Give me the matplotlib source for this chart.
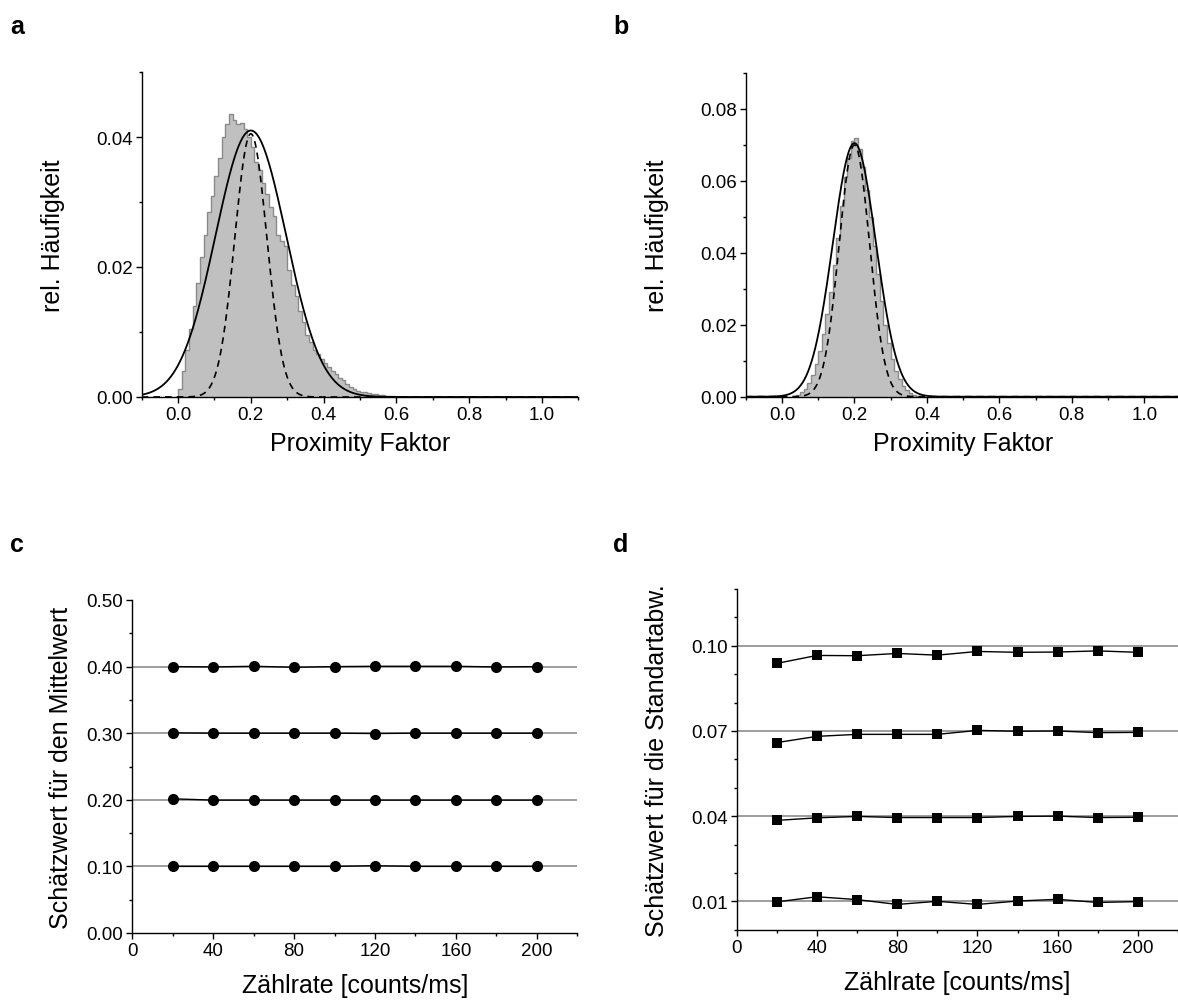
"""Proximity-factor histograms (a, b) and estimator stability vs count rate (c, d)."""

import numpy as np
import matplotlib

matplotlib.use("Agg")
from matplotlib import pyplot as plt
from matplotlib.ticker import FixedLocator, FormatStrFormatter, MultipleLocator

plt.rcParams["font.family"] = ["Liberation Sans", "DejaVu Sans"]

# --- panel a: broad distribution, 0.01 wide bins starting at 0.0
HIST_A_START = 0.0
HIST_A = [
    0.0012, 0.0040, 0.0072, 0.0105, 0.0140, 0.0175, 0.0215, 0.0250, 0.0285, 0.0310,
    0.0340, 0.0368, 0.0400, 0.0420, 0.0436, 0.0426, 0.0420, 0.0421, 0.0412, 0.0400,
    0.0385, 0.0362, 0.0350, 0.0330, 0.0312, 0.0292, 0.0278, 0.0250, 0.0240, 0.0232,
    0.0195, 0.0172, 0.0155, 0.0132, 0.0115, 0.0095, 0.0085, 0.0072, 0.0066, 0.0058,
    0.0052, 0.0046, 0.0040, 0.0035, 0.0030, 0.0026, 0.0020, 0.0016, 0.0012, 0.0010,
    0.0008, 0.0007, 0.0006, 0.0005, 0.0004, 0.0003, 0.0003, 0.0002, 0.0002, 0.0001,
]
# gaussian fit (solid) and shot-noise limited width (dashed): mean, sigma, peak
A_FIT = (0.20, 0.097, 0.0410)
A_SHOT = (0.20, 0.044, 0.0405)

# --- panel b: narrow distribution
HIST_B_START = 0.03
HIST_B = [
    0.0003, 0.0006, 0.0012, 0.0022, 0.0038, 0.0060, 0.0090, 0.0128, 0.0175, 0.0230,
    0.0290, 0.0365, 0.0440, 0.0530, 0.0610, 0.0665, 0.0710, 0.0720, 0.0690, 0.0640,
    0.0575, 0.0500, 0.0420, 0.0340, 0.0265, 0.0200, 0.0148, 0.0105, 0.0072, 0.0048,
    0.0030, 0.0019, 0.0011, 0.0006, 0.0003, 0.0002,
]
B_FIT = (0.20, 0.0595, 0.0705)
B_SHOT = (0.20, 0.042, 0.0700)
BIN_WIDTH = 0.01

# --- panels c, d: count rate in counts/ms
RATES = [20, 40, 60, 80, 100, 120, 140, 160, 180, 200]

MEAN_TRUE = [0.10, 0.20, 0.30, 0.40]
MEAN_EST_010 = [0.100, 0.100, 0.100, 0.100, 0.100, 0.101, 0.100, 0.100, 0.100, 0.100]
MEAN_EST_020 = [0.2015, 0.1995, 0.1995, 0.1995, 0.1995, 0.1995, 0.1995, 0.1995, 0.1995, 0.1995]
MEAN_EST_030 = [0.3005, 0.300, 0.300, 0.300, 0.300, 0.2995, 0.300, 0.300, 0.300, 0.300]
MEAN_EST_040 = [0.400, 0.3995, 0.4005, 0.399, 0.400, 0.4005, 0.4005, 0.4005, 0.3995, 0.400]

STD_TRUE = [0.01, 0.04, 0.07, 0.10]
STD_EST_001 = [0.0098, 0.0116, 0.0106, 0.0089, 0.0100, 0.0089, 0.0101, 0.0107, 0.0096, 0.0099]
STD_EST_004 = [0.0385, 0.0394, 0.0399, 0.0395, 0.0395, 0.0395, 0.0399, 0.0400, 0.0395, 0.0396]
STD_EST_007 = [0.0659, 0.0681, 0.0688, 0.0688, 0.0688, 0.0702, 0.0699, 0.0700, 0.0694, 0.0695]
STD_EST_010 = [0.0938, 0.0966, 0.0965, 0.0973, 0.0967, 0.0980, 0.0977, 0.0978, 0.0982, 0.0977]

TICK_SIZE = 13.5
LABEL_SIZE = 18
W, H = 1178, 1003


def _axes(fig, left, top, right, bottom):
    """Add axes given pixel edges (origin top-left)."""
    ax = fig.add_axes([left / W, 1 - bottom / H, (right - left) / W, (bottom - top) / H])
    for side in ("top", "right"):
        ax.spines[side].set_visible(False)
    for side in ("left", "bottom"):
        ax.spines[side].set_linewidth(1.0)
    ax.tick_params(which="major", direction="out", length=4.5, width=1.0,
                   labelsize=TICK_SIZE, pad=2)
    ax.tick_params(which="minor", direction="out", length=2.5, width=1.0)
    return ax


def _gauss(x, params):
    mean, sigma, peak = params
    return peak * np.exp(-0.5 * ((x - mean) / sigma) ** 2)


def _hist_panel(ax, start, values, fit, shot, ymax):
    edges = start + BIN_WIDTH * np.arange(len(values) + 1)
    ax.stairs(values, edges, fill=True, color="#c0c0c0", zorder=1)
    ax.stairs(values, edges, color="#8a8a8a", lw=1.0, zorder=2)

    x = np.linspace(-0.1, 1.1, 1201)
    ax.plot(x, _gauss(x, fit), color="black", lw=1.3, zorder=4)
    ax.plot(x, _gauss(x, shot), color="black", lw=1.2, ls=(0, (4, 3)), zorder=3)

    ax.set_xlim(-0.1, 1.1)
    ax.set_ylim(0, ymax)
    ax.xaxis.set_major_locator(MultipleLocator(0.2))
    ax.xaxis.set_minor_locator(MultipleLocator(0.1))
    ax.xaxis.set_major_formatter(FormatStrFormatter("%.1f"))
    ax.yaxis.set_major_locator(MultipleLocator(0.02))
    ax.yaxis.set_minor_locator(MultipleLocator(0.01))
    ax.yaxis.set_major_formatter(FormatStrFormatter("%.2f"))
    ax.set_xlabel("Proximity Faktor", fontsize=LABEL_SIZE, labelpad=6)
    ax.set_ylabel("rel. Häufigkeit", fontsize=LABEL_SIZE, labelpad=22)


def _rate_panel(ax, truths, series, marker, msize):
    for t in truths:
        ax.axhline(t, color="#8c8c8c", lw=1.2, zorder=1)
    for est in series:
        ax.plot(RATES, est, color="black", lw=1.0, marker=marker,
                markersize=msize, markeredgewidth=0, zorder=3)
    ax.set_xlim(0, 220)
    ax.xaxis.set_major_locator(MultipleLocator(40))
    ax.xaxis.set_minor_locator(MultipleLocator(20))
    ax.set_xlabel("Zählrate [counts/ms]", fontsize=LABEL_SIZE, labelpad=10)


def main():
    fig = plt.figure(figsize=(W / 100, H / 100), dpi=100)

    ax_a = _axes(fig, 141.7, 73, 578.3, 398)
    _hist_panel(ax_a, HIST_A_START, HIST_A, A_FIT, A_SHOT, 0.05)

    ax_b = _axes(fig, 745.7, 74, 1180.5, 397.7)
    _hist_panel(ax_b, HIST_B_START, HIST_B, B_FIT, B_SHOT, 0.09)

    ax_c = _axes(fig, 132.3, 601, 577.3, 934)
    _rate_panel(ax_c, MEAN_TRUE,
                [MEAN_EST_010, MEAN_EST_020, MEAN_EST_030, MEAN_EST_040], "o", 8)
    ax_c.set_ylim(0, 0.5)
    ax_c.yaxis.set_major_locator(MultipleLocator(0.1))
    ax_c.yaxis.set_minor_locator(MultipleLocator(0.05))
    ax_c.yaxis.set_major_formatter(FormatStrFormatter("%.2f"))
    ax_c.set_ylabel("Schätzwert für den Mittelwert", fontsize=LABEL_SIZE, labelpad=10)

    ax_d = _axes(fig, 736.7, 590, 1178, 930.7)
    _rate_panel(ax_d, STD_TRUE,
                [STD_EST_001, STD_EST_004, STD_EST_007, STD_EST_010], "s", 6.8)
    ax_d.set_ylim(0, 0.12)
    ax_d.yaxis.set_major_locator(FixedLocator([0.01, 0.04, 0.07, 0.10]))
    ax_d.yaxis.set_minor_locator(MultipleLocator(0.01))
    ax_d.yaxis.set_major_formatter(FormatStrFormatter("%.2f"))
    ax_d.set_ylabel("Schätzwert für die Standartabw.", fontsize=LABEL_SIZE, labelpad=16)

    for letter, (px, py) in zip("abcd", [(10, 34), (613, 34), (10, 552), (613, 552)]):
        fig.text(px / W, 1 - py / H, letter, fontsize=18, fontweight="bold",
                 ha="left", va="baseline")

    fig.savefig("out.png", dpi=100)
    plt.close(fig)


if __name__ == "__main__":
    main()
